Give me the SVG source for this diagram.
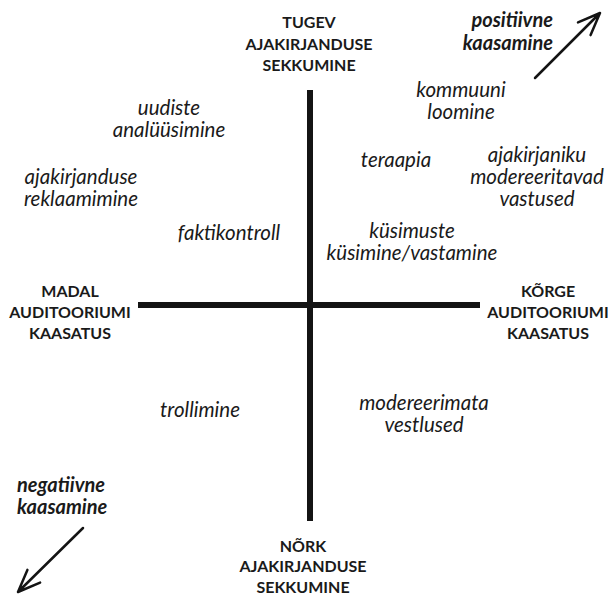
<svg xmlns="http://www.w3.org/2000/svg" width="608" height="595" viewBox="0 0 608 595">
<style>
text{font-family:Lato,"Liberation Sans",sans-serif;fill:#1a1a1a;text-anchor:middle}
.ax{font-weight:bold;font-size:16px}
.it{font-style:italic;font-size:20.5px}
.bi{font-style:italic;font-weight:bold;font-size:20px}
.axis{stroke:#141414;stroke-width:6;fill:none}
.arr{stroke:#141414;stroke-width:2.5;fill:none;stroke-linecap:round;stroke-linejoin:round}
</style>
<rect width="608" height="595" fill="#fff"/>
<g id="connectors">
<line class="axis" x1="310" y1="90" x2="310" y2="521"/>
<line class="axis" x1="138" y1="305" x2="480" y2="305"/>
<path class="arr" d="M535 78 L600 13 M578 22.4 L600 13 L590.6 35.1"/>
<path class="arr" d="M83 528 L18 592 M40.1 582.6 L18 592 L27.4 569.9"/>
</g>
<g id="top"><text class="ax" x="309" y="28">TUGEV</text><text class="ax" x="309" y="50">AJAKIRJANDUSE</text><text class="ax" x="309" y="71">SEKKUMINE</text></g>
<g id="bottom"><text class="ax" x="303" y="552">NÕRK</text><text class="ax" x="303" y="572">AJAKIRJANDUSE</text><text class="ax" x="303" y="593">SEKKUMINE</text></g>
<g id="left"><text class="ax" x="70" y="297">MADAL</text><text class="ax" x="70" y="318">AUDITOORIUMI</text><text class="ax" x="70" y="339">KAASATUS</text></g>
<g id="right"><text class="ax" x="548" y="297">KÕRGE</text><text class="ax" x="548" y="318">AUDITOORIUMI</text><text class="ax" x="548" y="339">KAASATUS</text></g>
<g id="positive"><text class="bi" x="553" y="27" style="text-anchor:end">positiivne</text><text class="bi" x="553" y="50" style="text-anchor:end">kaasamine</text></g>
<g id="negative"><text class="bi" x="17" y="492" style="text-anchor:start">negatiivne</text><text class="bi" x="17" y="514" style="text-anchor:start">kaasamine</text></g>
<g id="uudiste"><text class="it" x="169" y="115">uudiste</text><text class="it" x="169" y="137">analüüsimine</text></g>
<g id="reklaam"><text class="it" x="81" y="184">ajakirjanduse</text><text class="it" x="81" y="206">reklaamimine</text></g>
<g id="faktikontroll"><text class="it" x="229" y="240">faktikontroll</text></g>
<g id="kommuuni"><text class="it" x="461" y="97">kommuuni</text><text class="it" x="461" y="119">loomine</text></g>
<g id="teraapia"><text class="it" x="396" y="167">teraapia</text></g>
<g id="ajakirjaniku"><text class="it" x="537" y="162">ajakirjaniku</text><text class="it" x="537" y="184">modereeritavad</text><text class="it" x="537" y="206">vastused</text></g>
<g id="kysimuste"><text class="it" x="412" y="238">küsimuste</text><text class="it" x="412" y="260">küsimine/vastamine</text></g>
<g id="trollimine"><text class="it" x="200" y="417">trollimine</text></g>
<g id="modereerimata"><text class="it" x="424" y="410">modereerimata</text><text class="it" x="424" y="432">vestlused</text></g>
</svg>
